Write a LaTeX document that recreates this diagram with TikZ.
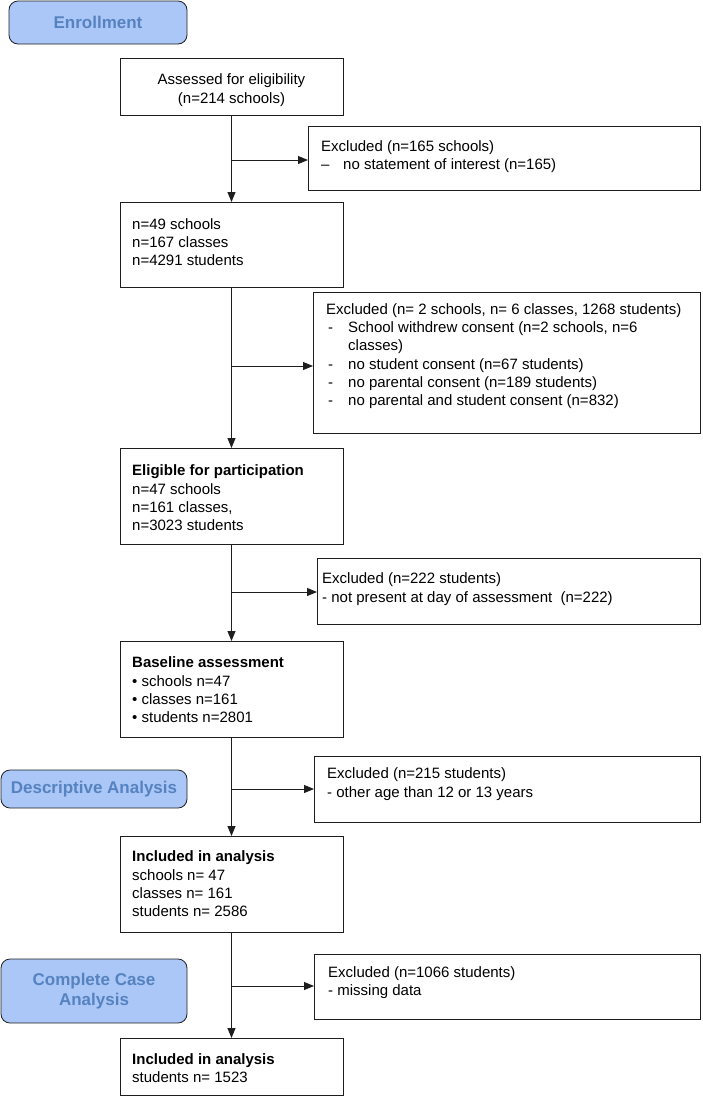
\documentclass[tikz,border=0pt]{standalone}
\usepackage{fontspec}
\setmainfont{Liberation Sans}
\usetikzlibrary{arrows.meta,calc}
\definecolor{lblfill}{RGB}{170,199,247}
\definecolor{lbltext}{RGB}{86,131,192}
\definecolor{edge}{RGB}{30,30,30}
\begin{document}
\begin{tikzpicture}[x=1pt,y=-1pt,
  box/.style={draw=edge, line width=0.9pt, anchor=north west, inner sep=0pt, outer sep=0pt},
  lbl/.style={draw=edge, line width=0.8pt, fill=lblfill, rounded corners=9pt, anchor=north west, inner sep=0pt, outer sep=0pt, text=lbltext, font=\fontsize{17}{19.5}\selectfont\bfseries, align=center},
  txt/.style={anchor=west, inner sep=0pt, align=left, font=\fontsize{15}{18.3}\selectfont},
  arr/.style={draw=edge, line width=0.9pt, -{Triangle[length=10pt,width=8pt]}},
  ln/.style={draw=edge, line width=0.9pt}]
\useasboundingbox (0,0) rectangle (703,1096);

% side labels
\node[lbl, minimum width=178pt, minimum height=43pt] (enr) at (9,1) {Enrollment};
\node[lbl, minimum width=186pt, minimum height=38pt] (desc) at (1,770) {Descriptive Analysis};
\node[lbl, minimum width=186pt, minimum height=64pt] (cca) at (1,959) {Complete Case\\Analysis};

% main column boxes
\node[box, minimum width=223pt, minimum height=57pt] (asb) at (120,58) {};
\node[box, minimum width=223pt, minimum height=85pt] (b2) at (120,202) {};
\node[box, minimum width=223pt, minimum height=96pt] (elig) at (120,448) {};
\node[box, minimum width=223pt, minimum height=96pt] (base) at (120,641) {};
\node[box, minimum width=223pt, minimum height=96pt] (inc1) at (120,836) {};
\node[box, minimum width=223pt, minimum height=57pt] (inc2) at (120,1038) {};

% exclusion boxes
\node[box, minimum width=392pt, minimum height=64pt] (ex1) at (308,126) {};
\node[box, minimum width=387pt, minimum height=141pt] (ex2) at (313,292) {};
\node[box, minimum width=383pt, minimum height=66pt] (ex3) at (317,558) {};
\node[box, minimum width=386pt, minimum height=66pt] (ex4) at (314,756) {};
\node[box, minimum width=386pt, minimum height=65pt] (ex5) at (314,954) {};

% texts
\node[txt, anchor=center, align=center] (asbt) at (231.5,90) {Assessed for eligibility\\(n=214 schools)};
\node[txt] (b2t) at (132,242) {n=49 schools\\n=167 classes\\n=4291 students};
\node[txt] (eligt) at (132,498) {{\bfseries Eligible for participation}\\n=47 schools\\n=161 classes,\\n=3023 students};
\node[txt] (baset) at (132,690) {{\bfseries Baseline assessment}\\• schools n=47\\• classes n=161\\• students n=2801};
\node[txt] (inc1t) at (132,884) {{\bfseries Included in analysis}\\schools n= 47\\classes n= 161\\students n= 2586};
\node[txt] (inc2t) at (132,1068) {{\bfseries Included in analysis}\\students n= 1523};

\node[txt] (ex1t) at (321,156.5) {Excluded (n=165 schools)\\\makebox[22pt][l]{–}no statement of interest (n=165)};
\node[txt] (ex2t) at (326,356) {Excluded (n= 2 schools, n= 6 classes, 1268 students)\\
\makebox[22pt][l]{\hspace*{2pt}-}School withdrew consent (n=2 schools, n=6\\
\hspace*{22pt}classes)\\
\makebox[22pt][l]{\hspace*{2pt}-}no student consent (n=67 students)\\
\makebox[22pt][l]{\hspace*{2pt}-}no parental consent (n=189 students)\\
\makebox[22pt][l]{\hspace*{2pt}-}no parental and student consent (n=832)};
\node[txt] (ex3t) at (322,589) {Excluded (n=222 students)\\- not present at day of assessment \ (n=222)};
\node[txt] (ex4t) at (327,784) {Excluded (n=215 students)\\- other age than 12 or 13 years};
\node[txt] (ex5t) at (328,982.5) {Excluded (n=1066 students)\\- missing data};

% spine
\draw[arr] (asb.south) -- (b2.north);
\draw[arr] (b2.south) -- (elig.north);
\draw[arr] (elig.south) -- (base.north);
\draw[arr] (base.south) -- (inc1.north);
\draw[arr] (inc1.south) -- (inc2.north);

% branches
\coordinate (j1) at (231.5,160);
\coordinate (j2) at (231.5,366);
\coordinate (j3) at (231.5,592);
\coordinate (j4) at (231.5,789);
\coordinate (j5) at (231.5,986);
\draw[arr] (j1) -- (j1 -| ex1.west);
\draw[arr] (j2) -- (j2 -| ex2.west);
\draw[arr] (j3) -- (j3 -| ex3.west);
\draw[arr] (j4) -- (j4 -| ex4.west);
\draw[arr] (j5) -- (j5 -| ex5.west);
\end{tikzpicture}
\end{document}
